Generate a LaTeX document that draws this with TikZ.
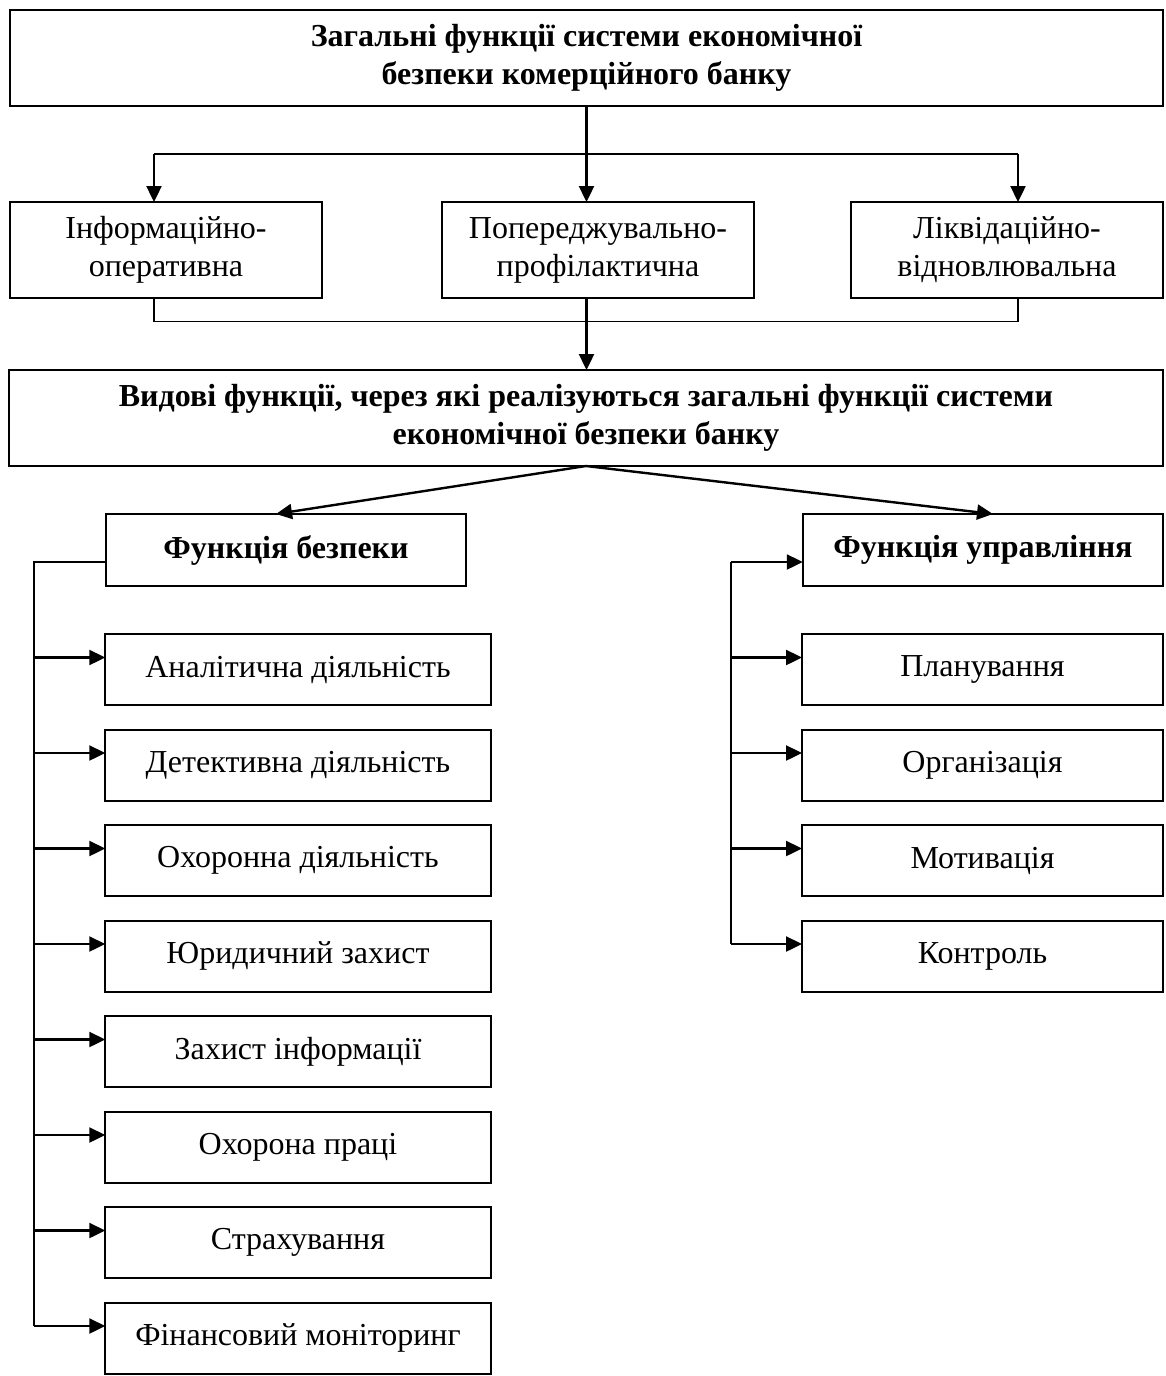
\documentclass[tikz,border=0pt]{standalone}
\usepackage{fontspec}
\setmainfont{Liberation Serif}
\usetikzlibrary{arrows.meta, positioning, calc}

\begin{document}
\begin{tikzpicture}[
    x=1pt, y=-1pt,
    node distance=24.5pt,
    box/.style={draw, line width=2pt, align=center, inner sep=0pt, outer sep=0pt,
                font=\fontsize{32}{38}\selectfont},
    head/.style={box, font=\fontsize{32}{38}\selectfont\bfseries},
    sub/.style={box, minimum height=71pt},
    line/.style={line width=1.8pt},
    arr/.style={line width=2.4pt, -{Triangle[length=16pt, width=15pt]}}
  ]
    \useasboundingbox (0,0) rectangle (1165,1376);

    % general functions
    \node[head, minimum width=1153pt, minimum height=96pt] (top) at (586.5,58)
      {Загальні функції системи економічної\\безпеки комерційного банку};
    \node[box, minimum width=312pt, minimum height=96pt] (inf) at (166,250)
      {Інформаційно-\\оперативна};
    \node[box, minimum width=311.5pt, minimum height=96pt] (pop) at (598,250)
      {Попереджувально-\\профілактична};
    \node[box, minimum width=312pt, minimum height=96pt] (lik) at (1007,250)
      {Ліквідаційно-\\відновлювальна};

    \coordinate (bl) at (154,154);
    \coordinate (br) at (1018,154);
    \coordinate (cl) at (154,321.5);
    \coordinate (cr) at (1018,321.5);

    \draw[line] (bl) -- (br);
    \draw[arr] (top.south) -- (top.south |- pop.north);
    \draw[arr] (bl) -- (bl |- inf.north);
    \draw[arr] (br) -- (br |- lik.north);
    \draw[line] (cl |- inf.south) -- (cl) -- (cr) -- (cr |- lik.south);

    % specific functions
    \node[head, minimum width=1154pt, minimum height=96pt] (vid) at (586,418)
      {Видові функції, через які реалізуються загальні функції системи\\економічної безпеки банку};
    \draw[arr] (top.south |- pop.south) -- (top.south |- vid.north);

    \node[head, minimum width=360.5pt, minimum height=72pt] (fb) at (286,550) {Функція безпеки};
    \node[head, minimum width=360.5pt, minimum height=72pt] (fu) at (983,550) {Функція управління};
    \draw[arr] (vid.south) -- ($(fb.north)+(-10,0)$);
    \draw[arr] (vid.south) -- ($(fu.north)+(10,0)$);

    % security branch
    \node[sub, minimum width=385.5pt] (s1) at (298,669.5) {Аналітична діяльність};
    \node[sub, minimum width=385.5pt, below=of s1] (s2) {Детективна діяльність};
    \node[sub, minimum width=385.5pt, below=of s2] (s3) {Охоронна діяльність};
    \node[sub, minimum width=385.5pt, below=of s3] (s4) {Юридичний захист};
    \node[sub, minimum width=385.5pt, below=of s4] (s5) {Захист інформації};
    \node[sub, minimum width=385.5pt, below=of s5] (s6) {Охорона праці};
    \node[sub, minimum width=385.5pt, below=of s6] (s7) {Страхування};
    \node[sub, minimum width=385.5pt, below=of s7] (s8) {Фінансовий моніторинг};

    \coordinate (tl) at (34,0);
    \draw[line] ($(fb.west)+(0,12)$) -| ($(tl |- s8.west)+(0,-12)$);
    \foreach \n in {s1,s2,s3,s4,s5,s6,s7,s8}
      \draw[arr] ($(tl |- \n.west)+(0,-12)$) -- ($(\n.west)+(0,-12)$);

    % management branch
    \node[sub, minimum width=361pt] (r1) at (982.5,669.5) {Планування};
    \node[sub, minimum width=361pt, below=of r1] (r2) {Організація};
    \node[sub, minimum width=361pt, below=of r2] (r3) {Мотивація};
    \node[sub, minimum width=361pt, below=of r3] (r4) {Контроль};

    \coordinate (tr) at (731,0);
    \draw[line] ($(tr |- fu.west)+(0,12)$) -- ($(tr |- r4.west)+(0,-12)$);
    \draw[arr] ($(tr |- fu.west)+(0,12)$) -- ($(fu.west)+(0,12)$);
    \foreach \n in {r1,r2,r3,r4}
      \draw[arr] ($(tr |- \n.west)+(0,-12)$) -- ($(\n.west)+(0,-12)$);
\end{tikzpicture}
\end{document}
